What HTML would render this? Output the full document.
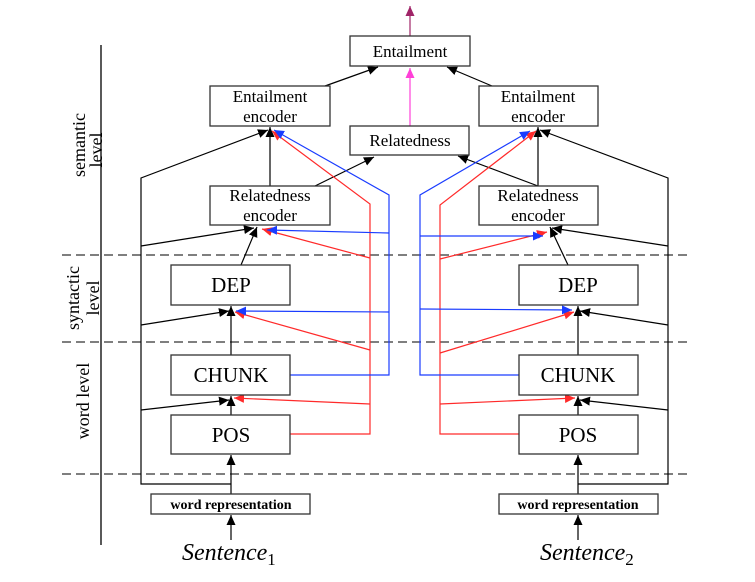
<!DOCTYPE html>
<html><head><meta charset="utf-8"><style>
html,body{margin:0;padding:0;background:#fff;}
svg{display:block;}
text{font-family:"Liberation Serif",serif;fill:#000;}
</style></head><body>
<svg width="755" height="582" viewBox="0 0 755 582" xmlns="http://www.w3.org/2000/svg">
<defs>
<marker id="ak" viewBox="0 0 10 10" refX="10" refY="5" markerWidth="10" markerHeight="10" markerUnits="userSpaceOnUse" orient="auto"><path d="M0,0.5L10,5L0,9.5z" fill="#000"/></marker>
<marker id="ar" viewBox="0 0 10 10" refX="10" refY="5" markerWidth="10" markerHeight="10" markerUnits="userSpaceOnUse" orient="auto"><path d="M0,0.5L10,5L0,9.5z" fill="#ff2a2a"/></marker>
<marker id="ab" viewBox="0 0 10 10" refX="10" refY="5" markerWidth="10" markerHeight="10" markerUnits="userSpaceOnUse" orient="auto"><path d="M0,0.5L10,5L0,9.5z" fill="#1a3cff"/></marker>
<marker id="ap" viewBox="0 0 10 10" refX="10" refY="5" markerWidth="10" markerHeight="10" markerUnits="userSpaceOnUse" orient="auto"><path d="M0,0.5L10,5L0,9.5z" fill="#ff40d8"/></marker>
<marker id="am" viewBox="0 0 10 10" refX="10" refY="5" markerWidth="10" markerHeight="10" markerUnits="userSpaceOnUse" orient="auto"><path d="M0,0.5L10,5L0,9.5z" fill="#a02468"/></marker>
</defs>

<line x1="101" y1="45" x2="101" y2="545" stroke="#000" stroke-width="1.3"/>
<g stroke="#333" stroke-width="1.3" stroke-dasharray="9,5">
<line x1="62" y1="255" x2="690" y2="255"/>
<line x1="62" y1="342" x2="690" y2="342"/>
<line x1="62" y1="474" x2="690" y2="474"/>
</g>

<g font-size="18">
<text transform="translate(79,145) rotate(-90)" text-anchor="middle" dominant-baseline="central">semantic</text>
<text transform="translate(96,150) rotate(-90)" text-anchor="middle" dominant-baseline="central">level</text>
<text transform="translate(73,298) rotate(-90)" text-anchor="middle" dominant-baseline="central">syntactic</text>
<text transform="translate(93,298) rotate(-90)" text-anchor="middle" dominant-baseline="central">level</text>
<text transform="translate(83,401) rotate(-90)" text-anchor="middle" dominant-baseline="central">word level</text>
</g>

<g stroke="#000" stroke-width="1.2" fill="none">
<line x1="231" y1="540" x2="231" y2="515" marker-end="url(#ak)"/>
<line x1="231" y1="494" x2="231" y2="455" marker-end="url(#ak)"/>
<polyline points="231,484 141,484 141,178 268,130" marker-end="url(#ak)"/>
<line x1="141" y1="410" x2="229" y2="400" marker-end="url(#ak)"/>
<line x1="231" y1="415" x2="231" y2="396" marker-end="url(#ak)"/>
<line x1="141" y1="325" x2="229" y2="311" marker-end="url(#ak)"/>
<line x1="231" y1="355" x2="231" y2="306" marker-end="url(#ak)"/>
<line x1="141" y1="246" x2="254" y2="228" marker-end="url(#ak)"/>
<line x1="241" y1="265" x2="257" y2="227" marker-end="url(#ak)"/>
<line x1="270" y1="186" x2="270" y2="127" marker-end="url(#ak)"/>
<line x1="315" y1="186" x2="374" y2="157" marker-end="url(#ak)"/>
<line x1="325" y1="86" x2="378" y2="67" marker-end="url(#ak)"/>
<line x1="578" y1="540" x2="578" y2="515" marker-end="url(#ak)"/>
<line x1="578" y1="494" x2="578" y2="455" marker-end="url(#ak)"/>
<polyline points="578,484 668,484 668,178 540,130" marker-end="url(#ak)"/>
<line x1="668" y1="410" x2="580" y2="400" marker-end="url(#ak)"/>
<line x1="578" y1="415" x2="578" y2="396" marker-end="url(#ak)"/>
<line x1="668" y1="325" x2="580" y2="311" marker-end="url(#ak)"/>
<line x1="578" y1="355" x2="578" y2="306" marker-end="url(#ak)"/>
<line x1="668" y1="246" x2="552" y2="228" marker-end="url(#ak)"/>
<line x1="568" y1="265" x2="550" y2="227" marker-end="url(#ak)"/>
<line x1="538" y1="186" x2="538" y2="127" marker-end="url(#ak)"/>
<line x1="538" y1="186" x2="458" y2="156" marker-end="url(#ak)"/>
<line x1="492" y1="86" x2="447" y2="67" marker-end="url(#ak)"/>
</g>

<g stroke="#ff2a2a" stroke-width="1.2" fill="none">
<polyline points="290,434 370,434 370,204 272,131" marker-end="url(#ar)"/>
<line x1="370" y1="404" x2="234" y2="398" marker-end="url(#ar)"/>
<line x1="370" y1="350" x2="235" y2="312" marker-end="url(#ar)"/>
<line x1="370" y1="258" x2="262" y2="229" marker-end="url(#ar)"/>
<polyline points="519,434 440,434 440,205 536,131" marker-end="url(#ar)"/>
<line x1="440" y1="404" x2="575" y2="398" marker-end="url(#ar)"/>
<line x1="440" y1="353" x2="574" y2="312" marker-end="url(#ar)"/>
<line x1="440" y1="259" x2="547" y2="232" marker-end="url(#ar)"/>
</g>

<g stroke="#1a3cff" stroke-width="1.2" fill="none">
<polyline points="290,375 389,375 389,195 274,130" marker-end="url(#ab)"/>
<line x1="389" y1="312" x2="236" y2="311" marker-end="url(#ab)"/>
<line x1="389" y1="233" x2="267" y2="230" marker-end="url(#ab)"/>
<polyline points="519,375 420,375 420,195 530,131" marker-end="url(#ab)"/>
<line x1="420" y1="309" x2="572" y2="310" marker-end="url(#ab)"/>
<line x1="420" y1="236" x2="543" y2="236" marker-end="url(#ab)"/>
</g>

<line x1="410" y1="126" x2="410" y2="68" stroke="#ff40d8" stroke-width="1.2" marker-end="url(#ap)"/>
<line x1="410" y1="36" x2="410" y2="6" stroke="#a02468" stroke-width="1.2" marker-end="url(#am)"/>

<g fill="#fff" stroke="#333" stroke-width="1.3">
<rect x="350" y="36" width="120" height="30"/>
<rect x="210" y="86" width="120" height="40"/>
<rect x="479" y="86" width="119" height="40"/>
<rect x="350" y="126" width="119" height="29"/>
<rect x="210" y="186" width="120" height="39"/>
<rect x="479" y="186" width="119" height="39"/>
<rect x="171" y="265" width="119" height="40"/>
<rect x="519" y="265" width="119" height="40"/>
<rect x="171" y="355" width="119" height="40"/>
<rect x="519" y="355" width="119" height="40"/>
<rect x="171" y="415" width="119" height="39"/>
<rect x="519" y="415" width="119" height="39"/>
<rect x="151" y="494" width="159" height="20"/>
<rect x="499" y="494" width="159" height="20"/>
</g>

<g font-size="17" text-anchor="middle">
<text x="410" y="57">Entailment</text>
<text x="270" y="102">Entailment</text>
<text x="270" y="122">encoder</text>
<text x="538" y="102">Entailment</text>
<text x="538" y="122">encoder</text>
<text x="410" y="146">Relatedness</text>
<text x="270" y="201">Relatedness</text>
<text x="270" y="221">encoder</text>
<text x="538" y="201">Relatedness</text>
<text x="538" y="221">encoder</text>
</g>
<g font-size="21" text-anchor="middle">
<text x="231" y="292">DEP</text>
<text x="578" y="292">DEP</text>
<text x="231" y="382">CHUNK</text>
<text x="578" y="382">CHUNK</text>
<text x="231" y="442">POS</text>
<text x="578" y="442">POS</text>
</g>
<g font-size="14" font-weight="bold" text-anchor="middle">
<text x="231" y="509">word representation</text>
<text x="578" y="509">word representation</text>
</g>
<g font-size="24" font-style="italic">
<text x="182" y="560">Sentence<tspan font-style="normal" font-size="17" dy="5">1</tspan></text>
<text x="540" y="560">Sentence<tspan font-style="normal" font-size="17" dy="5">2</tspan></text>
</g>
</svg>
</body></html>
